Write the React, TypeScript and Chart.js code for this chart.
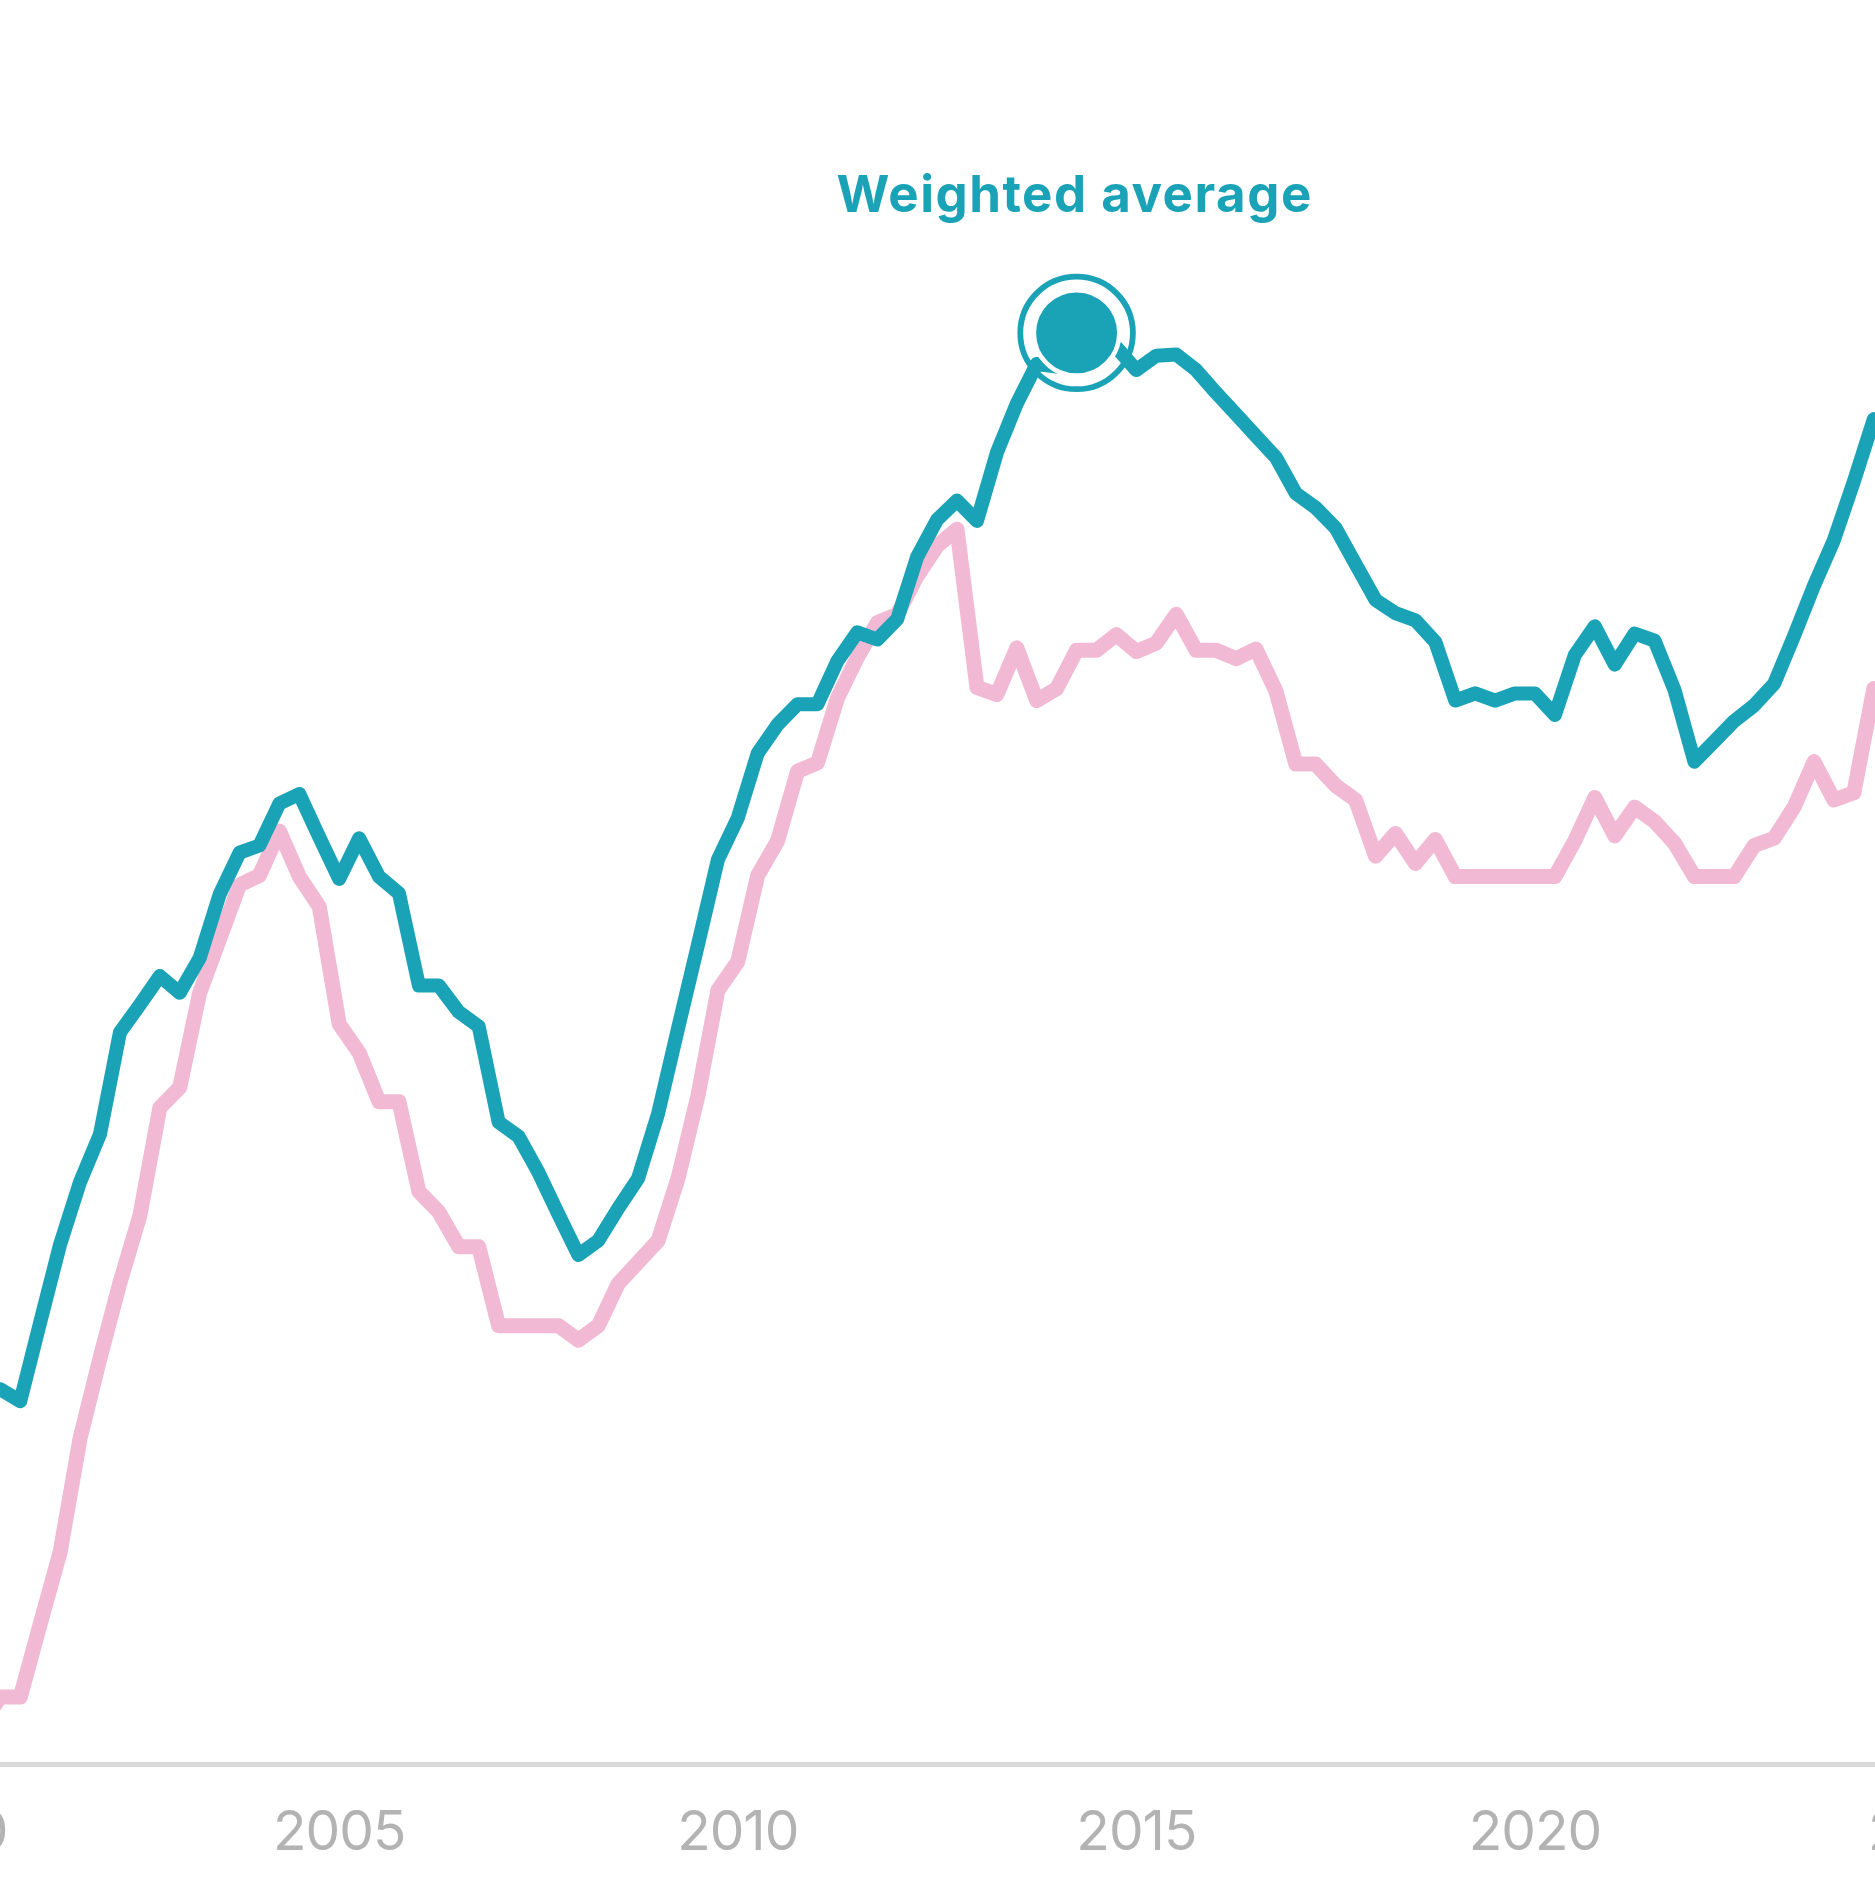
import React, { useEffect, useRef } from 'react';
import { Chart, registerables } from 'chart.js';

Chart.register(...registerables);

// ---------- data ----------
// quarterly periods (decimal years), 2000 Q3 .. 2024 Q2
const FIRST_QUARTER = 2000.5;
const quarters: number[] = Array.from({ length: 96 }, (_, i) => FIRST_QUARTER + i * 0.25);

// Weighted average (teal)
const weightedAverage: (number | null)[] = [
  null, 31.3, 30.3, 36.9, 43.4, 48.6, 52.6, 61.1, 63.4, 65.8,
  64.4, 67.3, 72.6, 76.1, 76.7, 80.2, 81.0, 77.4, 73.9, 77.3,
  74.1, 72.7, 65.0, 65.0, 62.8, 61.6, 53.6, 52.4, 49.4, 45.9,
  42.5, 43.7, 46.4, 48.9, 54.3, 61.4, 68.4, 75.5, 79.0, 84.4,
  86.8, 88.5, 88.5, 92.1, 94.5, 93.9, 95.6, 100.8, 103.9, 105.5,
  103.8, 109.5, 113.6, 116.9, 116.7, 117.4, 118.1, 118.3, 116.4, 117.6,
  117.7, 116.4, 114.5, 112.7, 110.9, 109.1, 106.1, 104.9, 103.2, 100.2,
  97.2, 96.1, 95.5, 93.7, 88.8, 89.4, 88.8, 89.4, 89.4, 87.6,
  92.6, 95.0, 91.8, 94.4, 93.8, 89.7, 83.7, 85.4, 87.1, 88.4,
  90.2, 94.2, 98.4, 102.2, 107.1, 112.3,
];

// Second series (pink)
const secondSeries: number[] = [
  3.2, 5.6, 5.6, 11.7, 17.7, 27.2, 33.9, 40.2, 45.8, 54.8,
  56.5, 64.4, 68.9, 73.4, 74.2, 77.9, 74.1, 71.6, 61.8, 59.4,
  55.3, 55.3, 47.8, 46.1, 43.2, 43.2, 36.6, 36.6, 36.6, 36.6,
  35.4, 36.6, 40.1, 41.9, 43.7, 48.9, 55.8, 64.6, 67.0, 74.2,
  77.1, 82.9, 83.6, 89.0, 92.4, 95.3, 96.0, 99.2, 101.7, 103.1,
  89.9, 89.3, 93.2, 88.8, 89.8, 93.0, 93.0, 94.3, 92.9, 93.6,
  96.0, 93.0, 93.0, 92.3, 93.1, 89.6, 83.5, 83.5, 81.7, 80.5,
  75.8, 77.7, 75.2, 77.2, 74.1, 74.1, 74.1, 74.1, 74.1, 74.1,
  77.1, 80.7, 77.5, 79.9, 78.7, 76.9, 74.1, 74.1, 74.1, 76.7,
  77.3, 79.9, 83.7, 80.5, 81.1, 89.8,
];

const highlightX = [2014.25];
const highlightY = [119.5];
const highlightLabel = 'Weighted average';
const yearTicks = [2000, 2005, 2010, 2015, 2020, 2025];

// ---------- styles / layout ----------
const TEAL = '#1aa3b6';
const PINK = '#f1b9d3';
const AXIS = '#d9d9d9';
const TICK = '#b3b3b3';
const FONT = 'Inter, "Noto Sans", sans-serif';

const VIEW_W = 1875;
const VIEW_H = 1877;
const PX_PER_YEAR = 79.72;
const X_MIN = 1998.5;
const CANVAS_W = 2300;
const X_MAX = X_MIN + CANVAS_W / PX_PER_YEAR;
const CANVAS_LEFT = 0.43 - (2000.75 - X_MIN) * PX_PER_YEAR;
const X_AXIS_H = 113;
const Y_MAX = 147.3;

const labelPlugin = {
  id: 'highlightLabel',
  beforeDraw(chart: any) {
    (chart.ctx as any).letterSpacing = '-1px';
  },
  afterDatasetsDraw(chart: any) {
    const meta = chart.getDatasetMeta(3);
    const pt = meta && meta.data && meta.data[0];
    if (!pt) return;
    const ctx = chart.ctx;
    ctx.save();
    (ctx as any).letterSpacing = '1.5px';
    ctx.font = `bold 51px ${FONT}`;
    ctx.fillStyle = TEAL;
    ctx.textAlign = 'center';
    ctx.textBaseline = 'alphabetic';
    ctx.fillText(highlightLabel, pt.x - 2, pt.y - 120.5);
    ctx.restore();
  },
  afterDraw(chart: any) {
    (chart.ctx as any).letterSpacing = '0px';
  },
};

export default function App() {
  const ref = useRef<HTMLCanvasElement | null>(null);

  useEffect(() => {
    if (!ref.current) return;
    const toPoints = (ys: (number | null)[]) => quarters.map((x, i) => ({ x, y: ys[i] }));
    const marker = highlightX.map((x, i) => ({ x, y: highlightY[i] }));

    const chart = new Chart(ref.current, {
      type: 'line',
      data: {
        datasets: [
          {
            label: 'Weighted average',
            data: toPoints(weightedAverage) as any,
            borderColor: TEAL,
            borderWidth: 14,
            pointRadius: 0,
            borderJoinStyle: 'round',
            borderCapStyle: 'round',
            tension: 0,
            order: 2,
          },
          {
            label: 'Series',
            data: toPoints(secondSeries) as any,
            borderColor: PINK,
            borderWidth: 15,
            pointRadius: 0,
            borderJoinStyle: 'round',
            borderCapStyle: 'round',
            tension: 0,
            order: 3,
          },
          {
            label: 'ring',
            data: marker as any,
            showLine: false,
            pointRadius: 56.3,
            pointBorderWidth: 5.8,
            pointBorderColor: TEAL,
            pointBackgroundColor: 'rgba(0,0,0,0)',
            order: 1,
          },
          {
            label: 'dot',
            data: marker as any,
            showLine: false,
            pointRadius: 42.7,
            pointBorderWidth: 4.5,
            pointBorderColor: '#ffffff',
            pointBackgroundColor: TEAL,
            order: 0,
          },
        ],
      },
      options: {
        animation: false,
        responsive: true,
        maintainAspectRatio: false,
        events: [],
        layout: { padding: 0, autoPadding: false },
        plugins: { legend: { display: false }, tooltip: { enabled: false } },
        scales: {
          x: {
            type: 'linear',
            min: X_MIN,
            max: X_MAX,
            grid: { display: false },
            border: { display: true, color: AXIS, width: 5 },
            ticks: {
              color: TICK,
              font: { family: FONT, size: 55 },
              padding: 28,
              maxRotation: 0,
              autoSkip: false,
              callback: (v: any) => String(v),
            },
            afterBuildTicks: (axis: any) => {
              axis.ticks = yearTicks.map((value) => ({ value }));
            },
            afterFit: (axis: any) => {
              axis.height = X_AXIS_H;
              axis.paddingLeft = 0;
              axis.paddingRight = 0;
            },
          },
          y: { display: false, min: 0, max: Y_MAX },
        },
      },
      plugins: [labelPlugin],
    });
    return () => chart.destroy();
  }, []);

  return (
    <div
      style={{
        position: 'fixed',
        left: 0,
        top: 0,
        width: VIEW_W,
        height: VIEW_H,
        overflow: 'hidden',
        background: '#ffffff',
      }}
    >
      <div style={{ position: 'absolute', left: CANVAS_LEFT, top: 0, width: CANVAS_W, height: VIEW_H }}>
        <canvas ref={ref} />
      </div>
    </div>
  );
}
